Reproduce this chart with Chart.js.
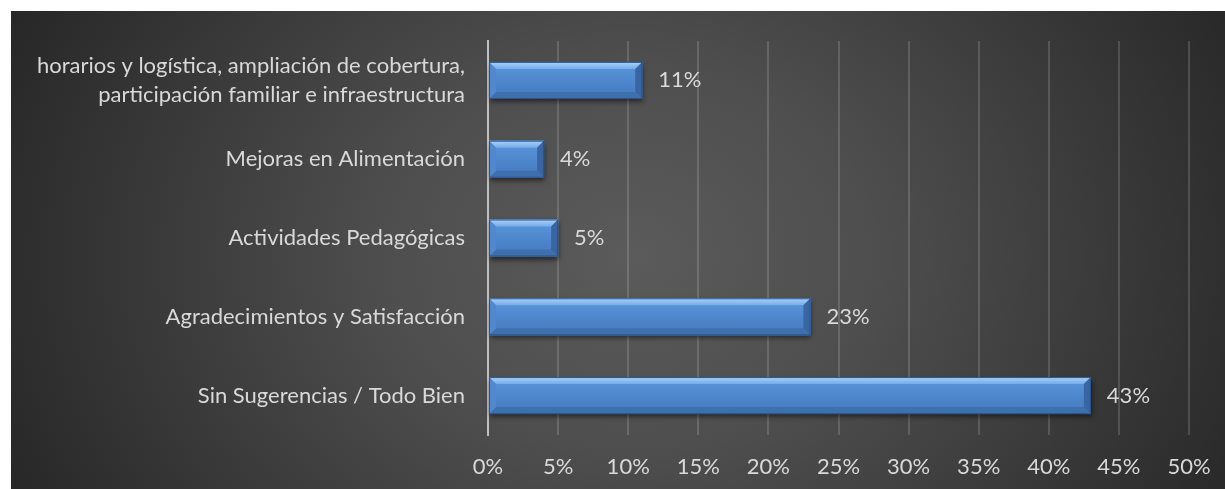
<!DOCTYPE html>
<html><head><meta charset="utf-8">
<script src="https://cdn.jsdelivr.net/npm/chart.js@4"></script>
<style>
html,body{margin:0;padding:0;background:#ffffff;width:1225px;height:489px;overflow:hidden;}
#wrap{position:absolute;left:11px;top:11px;width:1214px;height:478px;}
</style></head>
<body>
<div id="wrap"><canvas id="c"></canvas></div>
<script>
const categories = [
  ["horarios y logística, ampliación de cobertura,", "participación familiar e infraestructura"],
  "Mejoras en Alimentación",
  "Actividades Pedagógicas",
  "Agradecimientos y Satisfacción",
  "Sin Sugerencias / Todo Bien"
];
const values = [11, 4, 5, 23, 43];
const valueLabels = ["11%", "4%", "5%", "23%", "43%"];
const xTickLabels = ["0%","5%","10%","15%","20%","25%","30%","35%","40%","45%","50%"];

const FONT = "Lato";
const FSIZE = 22;
const TXT = "#d9d9d9";

const bgPlugin = {
  id: 'bg',
  beforeDraw(chart) {
    const ctx = chart.ctx;
    ctx.save();
    ctx.translate(620, 245);
    ctx.scale(1.25, 1);
    const g = ctx.createRadialGradient(0, 0, 0, 0, 0, 560);
    g.addColorStop(0, '#5b5b5b');
    g.addColorStop(0.35, '#4e4e4e');
    g.addColorStop(1, '#262626');
    ctx.fillStyle = g;
    ctx.fillRect(-700, -400, 1400, 800);
    ctx.restore();
  }
};

const barPlugin = {
  id: 'bevel',
  beforeDatasetsDraw(chart) {
    const ctx = chart.ctx;
    const meta = chart.getDatasetMeta(0);
    ctx.save();
    meta.data.forEach(el => {
      const p = el.getProps(['x','y','base','height'], true);
      const t = p.y - p.height/2;
      ctx.shadowColor = 'rgba(0,0,0,0.55)';
      ctx.shadowBlur = 5;
      ctx.shadowOffsetX = 1;
      ctx.shadowOffsetY = 3;
      ctx.fillStyle = '#1e3a60';
      ctx.fillRect(p.base, t, p.x - p.base, p.height);
    });
    ctx.restore();
  },
  afterDatasetsDraw(chart) {
    const ctx = chart.ctx;
    const meta = chart.getDatasetMeta(0);
    ctx.save();
    meta.data.forEach((el, i) => {
      const p = el.getProps(['x','y','base','height'], true);
      const L = p.base, R = p.x, T = p.y - p.height/2, B = p.y + p.height/2;
      const b = Math.min(7, (R - L)/2);
      const g = ctx.createLinearGradient(0, T, 0, B);
      g.addColorStop(0, '#5a96dc');
      g.addColorStop(1, '#4479bd');
      ctx.fillStyle = g;
      ctx.fillRect(L, T, R - L, B - T);
      const gt = ctx.createLinearGradient(0, T, 0, T + b);
      gt.addColorStop(0, '#a9d3fa');
      gt.addColorStop(1, '#76abe8');
      ctx.fillStyle = gt;
      ctx.beginPath();
      ctx.moveTo(L, T); ctx.lineTo(R, T); ctx.lineTo(R - b, T + b); ctx.lineTo(L + b, T + b); ctx.closePath(); ctx.fill();
      ctx.fillStyle = '#3f70ae';
      ctx.beginPath();
      ctx.moveTo(L, B); ctx.lineTo(R, B); ctx.lineTo(R - b, B - b); ctx.lineTo(L + b, B - b); ctx.closePath(); ctx.fill();
      ctx.fillStyle = '#5089cf';
      ctx.beginPath();
      ctx.moveTo(L, T); ctx.lineTo(L + b, T + b); ctx.lineTo(L + b, B - b); ctx.lineTo(L, B); ctx.closePath(); ctx.fill();
      ctx.fillStyle = '#3966a3';
      ctx.beginPath();
      ctx.moveTo(R, T); ctx.lineTo(R - b, T + b); ctx.lineTo(R - b, B - b); ctx.lineTo(R, B); ctx.closePath(); ctx.fill();
      ctx.strokeStyle = '#2a5288';
      ctx.lineWidth = 1;
      ctx.strokeRect(L + 0.5, T + 0.5, R - L - 1, B - T - 1);
      ctx.fillStyle = TXT;
      ctx.font = FSIZE + 'px ' + FONT;
      ctx.textAlign = 'left';
      ctx.textBaseline = 'middle';
      ctx.fillText(valueLabels[i], R + 16, p.y);
    });
    ctx.restore();
  }
};

new Chart(document.getElementById('c'), {
  type: 'bar',
  data: {
    labels: categories,
    datasets: [{
      data: values,
      backgroundColor: '#4f87cc',
      borderWidth: 0,
      barPercentage: 0.47,
      categoryPercentage: 1.0
    }]
  },
  options: {
    indexAxis: 'y',
    responsive: true,
    maintainAspectRatio: false,
    animation: false,
    events: [],
    layout: { padding: { top: 30, left: 0, right: 36, bottom: 0 } },
    plugins: { legend: { display: false }, tooltip: { enabled: false } },
    scales: {
      x: {
        min: 0, max: 50,
        afterFit(s) { s.height = 54; s.paddingLeft = 0; s.paddingRight = 0; },
        border: { display: false },
        grid: { color: 'rgba(255,255,255,0.15)', lineWidth: 2, drawTicks: false },
        ticks: {
          stepSize: 5,
          color: TXT,
          font: { family: FONT, size: FSIZE },
          padding: 19,
          callback: (v, i) => xTickLabels[i]
        }
      },
      y: {
        afterFit(s) { s.width = 477; s.paddingTop = 0; s.paddingBottom = 0; },
        border: { display: true, color: '#bfbfbf', width: 2 },
        grid: { display: false, drawTicks: false },
        ticks: {
          color: TXT,
          font: { family: FONT, size: FSIZE, lineHeight: 1.3 },
          padding: 23
        }
      }
    }
  },
  plugins: [bgPlugin, barPlugin]
});
</script>
</body></html>
